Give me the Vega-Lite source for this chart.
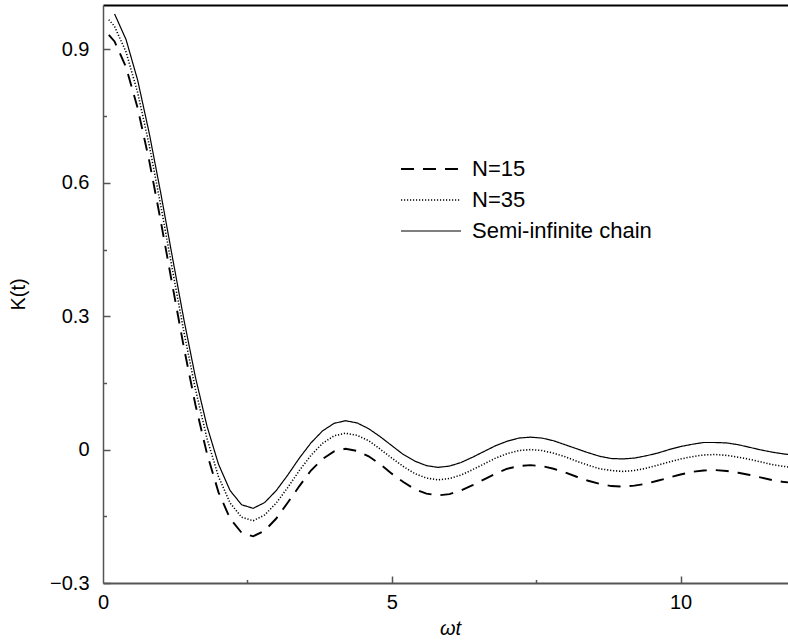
{
  "$schema": "https://vega.github.io/schema/vega-lite/v6.json",
  "width": 685,
  "height": 578,
  "autosize": {"type": "none"},
  "padding": {"left": 103, "top": 5, "right": 0, "bottom": 60},
  "background": "white",
  "config": {
    "view": {"stroke": null},
    "font": "Liberation Sans",
    "axis": {"labelFont": "Liberation Sans", "titleFont": "Liberation Sans", "grid": false, "labelColor": "black", "titleColor": "black", "titleFontWeight": "normal"}
  },
  "data": {
    "values": [
      {"t": 0.1, "N=15": 0.933, "N=35": 0.967},
      {"t": 0.2, "N=15": 0.918, "N=35": 0.952, "Semi-infinite chain": 0.980},
      {"t": 0.4, "N=15": 0.860, "N=35": 0.894, "Semi-infinite chain": 0.922},
      {"t": 0.6, "N=15": 0.768, "N=35": 0.803, "Semi-infinite chain": 0.831},
      {"t": 0.8, "N=15": 0.650, "N=35": 0.685, "Semi-infinite chain": 0.712},
      {"t": 1.0, "N=15": 0.514, "N=35": 0.549, "Semi-infinite chain": 0.577},
      {"t": 1.2, "N=15": 0.371, "N=35": 0.406, "Semi-infinite chain": 0.434},
      {"t": 1.4, "N=15": 0.230, "N=35": 0.265, "Semi-infinite chain": 0.293},
      {"t": 1.6, "N=15": 0.101, "N=35": 0.136, "Semi-infinite chain": 0.163},
      {"t": 1.8, "N=15": -0.009, "N=35": 0.025, "Semi-infinite chain": 0.053},
      {"t": 2.0, "N=15": -0.096, "N=35": -0.061, "Semi-infinite chain": -0.033},
      {"t": 2.2, "N=15": -0.155, "N=35": -0.120, "Semi-infinite chain": -0.092},
      {"t": 2.4, "N=15": -0.187, "N=35": -0.152, "Semi-infinite chain": -0.124},
      {"t": 2.6, "N=15": -0.195, "N=35": -0.160, "Semi-infinite chain": -0.132},
      {"t": 2.8, "N=15": -0.182, "N=35": -0.147, "Semi-infinite chain": -0.119},
      {"t": 3.0, "N=15": -0.155, "N=35": -0.120, "Semi-infinite chain": -0.092},
      {"t": 3.2, "N=15": -0.119, "N=35": -0.085, "Semi-infinite chain": -0.057},
      {"t": 3.4, "N=15": -0.082, "N=35": -0.047, "Semi-infinite chain": -0.019},
      {"t": 3.6, "N=15": -0.047, "N=35": -0.013, "Semi-infinite chain": 0.015},
      {"t": 3.8, "N=15": -0.021, "N=35": 0.014, "Semi-infinite chain": 0.042},
      {"t": 4.0, "N=15": -0.004, "N=35": 0.031, "Semi-infinite chain": 0.059},
      {"t": 4.2, "N=15": 0.002, "N=35": 0.037, "Semi-infinite chain": 0.065},
      {"t": 4.4, "N=15": -0.003, "N=35": 0.032, "Semi-infinite chain": 0.060},
      {"t": 4.6, "N=15": -0.015, "N=35": 0.020, "Semi-infinite chain": 0.047},
      {"t": 4.8, "N=15": -0.033, "N=35": 0.001, "Semi-infinite chain": 0.029},
      {"t": 5.0, "N=15": -0.054, "N=35": -0.019, "Semi-infinite chain": 0.009},
      {"t": 5.2, "N=15": -0.073, "N=35": -0.038, "Semi-infinite chain": -0.011},
      {"t": 5.4, "N=15": -0.089, "N=35": -0.054, "Semi-infinite chain": -0.026},
      {"t": 5.6, "N=15": -0.099, "N=35": -0.064, "Semi-infinite chain": -0.036},
      {"t": 5.8, "N=15": -0.103, "N=35": -0.068, "Semi-infinite chain": -0.040},
      {"t": 6.0, "N=15": -0.100, "N=35": -0.065, "Semi-infinite chain": -0.037},
      {"t": 6.2, "N=15": -0.092, "N=35": -0.057, "Semi-infinite chain": -0.029},
      {"t": 6.4, "N=15": -0.080, "N=35": -0.045, "Semi-infinite chain": -0.017},
      {"t": 6.6, "N=15": -0.067, "N=35": -0.032, "Semi-infinite chain": -0.004},
      {"t": 6.8, "N=15": -0.054, "N=35": -0.019, "Semi-infinite chain": 0.009},
      {"t": 7.0, "N=15": -0.043, "N=35": -0.009, "Semi-infinite chain": 0.019},
      {"t": 7.2, "N=15": -0.037, "N=35": -0.002, "Semi-infinite chain": 0.026},
      {"t": 7.4, "N=15": -0.035, "N=35": 0.000, "Semi-infinite chain": 0.028},
      {"t": 7.6, "N=15": -0.037, "N=35": -0.002, "Semi-infinite chain": 0.026},
      {"t": 7.8, "N=15": -0.043, "N=35": -0.008, "Semi-infinite chain": 0.020},
      {"t": 8.0, "N=15": -0.051, "N=35": -0.016, "Semi-infinite chain": 0.011},
      {"t": 8.2, "N=15": -0.061, "N=35": -0.026, "Semi-infinite chain": 0.002},
      {"t": 8.4, "N=15": -0.070, "N=35": -0.035, "Semi-infinite chain": -0.007},
      {"t": 8.6, "N=15": -0.077, "N=35": -0.043, "Semi-infinite chain": -0.015},
      {"t": 8.8, "N=15": -0.082, "N=35": -0.047, "Semi-infinite chain": -0.020},
      {"t": 9.0, "N=15": -0.083, "N=35": -0.049, "Semi-infinite chain": -0.021},
      {"t": 9.2, "N=15": -0.081, "N=35": -0.047, "Semi-infinite chain": -0.019},
      {"t": 9.4, "N=15": -0.077, "N=35": -0.042, "Semi-infinite chain": -0.014},
      {"t": 9.6, "N=15": -0.070, "N=35": -0.035, "Semi-infinite chain": -0.008},
      {"t": 9.8, "N=15": -0.063, "N=35": -0.028, "Semi-infinite chain": 0.000},
      {"t": 10.0, "N=15": -0.056, "N=35": -0.021, "Semi-infinite chain": 0.007},
      {"t": 10.2, "N=15": -0.050, "N=35": -0.016, "Semi-infinite chain": 0.012},
      {"t": 10.4, "N=15": -0.047, "N=35": -0.012, "Semi-infinite chain": 0.016},
      {"t": 10.6, "N=15": -0.046, "N=35": -0.011, "Semi-infinite chain": 0.016},
      {"t": 10.8, "N=15": -0.048, "N=35": -0.013, "Semi-infinite chain": 0.015},
      {"t": 11.0, "N=15": -0.052, "N=35": -0.017, "Semi-infinite chain": 0.011},
      {"t": 11.2, "N=15": -0.057, "N=35": -0.022, "Semi-infinite chain": 0.005},
      {"t": 11.4, "N=15": -0.063, "N=35": -0.028, "Semi-infinite chain": -0.001},
      {"t": 11.6, "N=15": -0.069, "N=35": -0.034, "Semi-infinite chain": -0.006},
      {"t": 11.8, "N=15": -0.073, "N=35": -0.038, "Semi-infinite chain": -0.010},
      {"t": 12.0, "N=15": -0.075, "N=35": -0.041, "Semi-infinite chain": -0.013}
    ]
  },
  "transform": [{"fold": ["N=15", "N=35", "Semi-infinite chain"], "as": ["series", "K"]}],
  "layer": [
    {
      "mark": {"type": "line", "clip": true, "color": "black"},
      "encoding": {
        "x": {
          "field": "t", "type": "quantitative",
          "scale": {"domain": [0, 11.86], "nice": false, "zero": false},
          "axis": {
            "orient": "bottom",
            "values": [0, 5, 10],
            "format": "d",
            "ticks": false,
            "domainColor": "#555", "domainWidth": 2,
            "labelFontSize": 20, "labelPadding": 9, "labelFlush": false, "labelOverlap": false,
            "title": "ωt", "titleFontSize": 20, "titleFontStyle": "italic",
            "titleX": 347, "titleY": 45, "titleBaseline": "middle", "titleAlign": "center"
          }
        },
        "y": {
          "field": "K", "type": "quantitative",
          "scale": {"domain": [-0.3, 1.0], "nice": false, "zero": false},
          "axis": {
            "values": [-0.3, 0, 0.3, 0.6, 0.9],
            "labelExpr": "datum.value === 0 ? '0' : format(datum.value, '.1f')",
            "ticks": false,
            "domainColor": "#555", "domainWidth": 1.5,
            "labelFontSize": 20, "labelPadding": 14, "labelOverlap": false, "labelFlush": false,
            "title": "K(t)", "titleFontSize": 20, "titleAngle": -90,
            "titleX": -85, "titleY": 289, "titleBaseline": "middle", "titleAlign": "center"
          }
        },
        "strokeDash": {
          "field": "series", "type": "nominal",
          "scale": {"domain": ["N=15", "N=35", "Semi-infinite chain"], "range": [[13, 9], [1.2, 1.8], [1, 0]]},
          "legend": {"orient": "none", "legendX": 317, "legendY": 153, "title": null, "symbolType": "M-3,0H3", "symbolSize": 400, "symbolStrokeColor": "black", "symbolFillColor": "transparent", "labelFontSize": 22, "labelFont": "Liberation Sans", "labelColor": "black", "labelOffset": 30, "labelLimit": 500, "rowPadding": 9, "padding": 0}
        },
        "strokeWidth": {
          "field": "series", "type": "nominal",
          "scale": {"domain": ["N=15", "N=35", "Semi-infinite chain"], "range": [1.9, 1.2, 1.9]},
          "legend": {"orient": "none", "legendX": 317, "legendY": 153, "title": null, "symbolType": "M-3,0H3", "symbolSize": 400, "symbolStrokeColor": "black", "symbolFillColor": "transparent", "labelFontSize": 22, "labelFont": "Liberation Sans", "labelColor": "black", "labelOffset": 30, "labelLimit": 500, "rowPadding": 9, "padding": 0}
        }
      }
    },
    {
      "mark": {"type": "line", "strokeOpacity": 0},
      "encoding": {
        "x": {"field": "t", "type": "quantitative", "axis": {"orient": "top", "labels": false, "ticks": false, "domain": true, "domainColor": "black", "domainWidth": 2, "title": null}},
        "y": {"field": "K", "type": "quantitative", "axis": null}
      }
    },
    {
      "mark": {"type": "line", "strokeOpacity": 0},
      "encoding": {
        "x": {"field": "t", "type": "quantitative", "axis": {"orient": "bottom", "offset": -7, "values": [5, 10], "labels": false, "ticks": true, "tickSize": 7, "tickColor": "#555", "tickWidth": 1.5, "domain": false, "title": null}},
        "y": {"field": "K", "type": "quantitative", "axis": {"orient": "left", "offset": -7, "values": [-0.3, 0, 0.3, 0.6, 0.9], "labels": false, "ticks": true, "tickSize": 7, "tickColor": "#555", "tickWidth": 1.5, "domain": false, "title": null}}
      }
    },
    {
      "mark": {"type": "line", "strokeOpacity": 0},
      "encoding": {
        "x": {"field": "t", "type": "quantitative", "axis": {"orient": "bottom", "offset": -3.5, "values": [2.5, 7.5], "labels": false, "ticks": true, "tickSize": 3.5, "tickColor": "#555", "tickWidth": 1.5, "domain": false, "title": null}},
        "y": {"field": "K", "type": "quantitative", "axis": {"orient": "left", "offset": -3.5, "values": [-0.15, 0.15, 0.45, 0.75], "labels": false, "ticks": true, "tickSize": 3.5, "tickColor": "#555", "tickWidth": 1.5, "domain": false, "title": null}}
      }
    }
  ],
  "resolve": {"axis": {"x": "independent", "y": "independent"}}
}
